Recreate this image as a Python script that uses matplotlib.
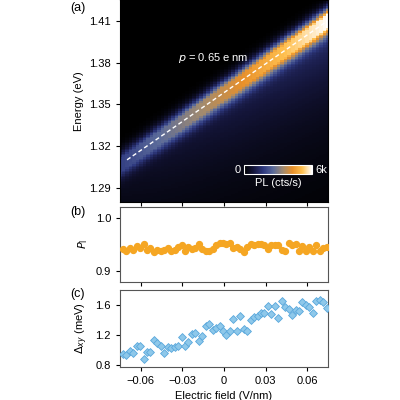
import numpy as np
import matplotlib.pyplot as plt
from matplotlib.colors import LinearSegmentedColormap

plt.rcParams['font.family'] = 'Liberation Sans'
plt.rcParams['font.size'] = 8

# panel (b): linear polarization degree
pl_field = np.linspace(-0.073, 0.074, 60)
pl_vals = [0.942, 0.938, 0.945, 0.941, 0.948, 0.944, 0.952, 0.941, 0.944, 0.937,
           0.941, 0.938, 0.940, 0.944, 0.939, 0.941, 0.946, 0.950, 0.939, 0.947,
           0.942, 0.944, 0.951, 0.942, 0.939, 0.938, 0.942, 0.950, 0.953, 0.954,
           0.951, 0.953, 0.944, 0.946, 0.942, 0.937, 0.946, 0.952, 0.949, 0.951,
           0.952, 0.949, 0.943, 0.949, 0.949, 0.950, 0.941, 0.938, 0.953, 0.950,
           0.951, 0.939, 0.948, 0.939, 0.946, 0.938, 0.950, 0.938, 0.945, 0.947]

# panel (c): fine-structure splitting
fs_field = np.linspace(-0.073, 0.074, 60)
fs_vals = [0.95, 0.94, 0.99, 0.96, 1.05, 1.06, 0.89, 0.98, 0.98, 1.13,
           1.10, 1.05, 0.96, 1.04, 1.03, 1.04, 1.05, 1.18, 1.05, 1.11,
           1.22, 1.23, 1.12, 1.19, 1.32, 1.35, 1.27, 1.29, 1.32, 1.25,
           1.20, 1.25, 1.42, 1.26, 1.45, 1.28, 1.26, 1.40, 1.44, 1.45,
           1.50, 1.50, 1.59, 1.48, 1.59, 1.43, 1.66, 1.57, 1.55, 1.47,
           1.53, 1.52, 1.64, 1.60, 1.58, 1.50, 1.65, 1.67, 1.64, 1.56]

# panel (a): Stark-shifted PL map parameters
e0 = 1.3585      # energy at zero field (eV)
slope = 0.69     # eV per V/nm  (p = 0.65 e nm)
field_grid = np.linspace(-0.075, 0.075, 60)
energy_grid = np.linspace(1.28, 1.425, 120)

F, E = np.meshgrid(field_grid, energy_grid)
center = e0 + slope * F
amp = 6000 * (0.3 + 0.7 * (F + 0.075) / 0.15)
d = E - center
peak = np.exp(-(d / 0.009) ** 2)
tail = np.where(d < 0, 0.32 * np.exp(d / 0.045), 0.32 * np.exp(-(d / 0.006) ** 2))
pl_map = amp * np.clip(peak + tail, 0, 1)

cmap = LinearSegmentedColormap.from_list('pl', ['#000000', '#15163d', '#2f3a80', '#5a6a9a',
                                                '#a08a70', '#e8902a', '#ffc050', '#ffffff'])

fig = plt.figure(figsize=(4, 4), dpi=100)
ax_a = fig.add_axes([0.30, 0.495, 0.52, 0.505])
ax_b = fig.add_axes([0.30, 0.295, 0.52, 0.188])
ax_c = fig.add_axes([0.30, 0.083, 0.52, 0.192])

im = ax_a.pcolormesh(field_grid, energy_grid, pl_map, cmap=cmap, vmin=0, vmax=6000, shading='auto')
ax_a.plot(field_grid[2:], e0 + slope * field_grid[2:], '--', color='white', lw=1, dashes=(3, 2))
ax_a.set_xlim(-0.075, 0.075)
ax_a.set_ylim(1.28, 1.425)
ax_a.set_yticks([1.29, 1.32, 1.35, 1.38, 1.41])
ax_a.set_xticks([-0.06, -0.03, 0, 0.03, 0.06])
ax_a.set_xticklabels([])
ax_a.set_ylabel('Energy (eV)')
ax_a.text(-0.033, 1.381, r'$p$ = 0.65 e nm', color='white', fontsize=8)
cax = fig.add_axes([0.61, 0.565, 0.17, 0.022])
cb = fig.colorbar(im, cax=cax, orientation='horizontal')
cb.set_ticks([])
cb.outline.set_edgecolor('white')
cax.text(-0.05, 0.5, '0', color='white', ha='right', va='center', transform=cax.transAxes)
cax.text(1.05, 0.5, '6k', color='white', ha='left', va='center', transform=cax.transAxes)
cax.text(0.5, -0.4, 'PL (cts/s)', color='white', ha='center', va='top', transform=cax.transAxes)
ax_a.tick_params(direction='out', length=3)

ax_b.scatter(pl_field, pl_vals, s=18, color='#f5a623', edgecolor='#f5a623', zorder=3)
ax_b.set_ylim(0.88, 1.022)
ax_b.set_yticks([0.9, 1.0])
ax_b.set_yticklabels(['0.9', '1.0'])
ax_b.set_ylabel(r'$P_{\rm l}$')

ax_c.scatter(fs_field, fs_vals, s=16, marker='D', color='#8ec8ea', edgecolor='#5aa8dc', lw=0.6, zorder=3)
ax_c.set_ylim(0.78, 1.8)
ax_c.set_yticks([0.8, 1.2, 1.6])
ax_c.set_ylabel(r'$\Delta_{xy}$ (meV)')
ax_c.set_xlabel('Electric field (V/nm)')

for ax in (ax_b, ax_c):
    ax.set_xlim(-0.075, 0.075)
    ax.set_xticks([-0.06, -0.03, 0, 0.03, 0.06])
    ax.tick_params(direction='out', length=3)
    for s in ax.spines.values():
        s.set_color('#555555')
ax_b.set_xticklabels([])
ax_c.set_xticklabels(['−0.06', '−0.03', '0', '0.03', '0.06'])

fig.text(0.175, 0.995, '(a)', va='top', fontsize=9)
fig.text(0.175, 0.485, '(b)', va='top', fontsize=9)
fig.text(0.175, 0.28, '(c)', va='top', fontsize=9)

fig.savefig('out.png', dpi=100)
